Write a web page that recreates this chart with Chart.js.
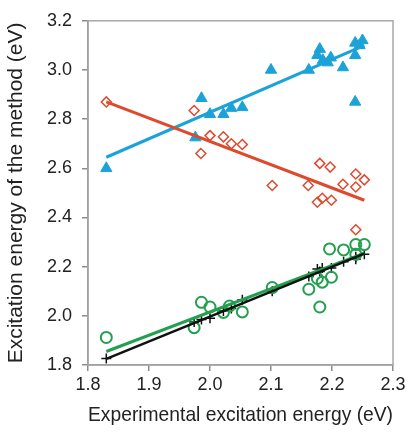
<!DOCTYPE html>
<html>
<head>
<meta charset="utf-8">
<script src="https://cdn.jsdelivr.net/npm/chart.js@4"></script>
<style>
  html, body { margin: 0; padding: 0; background: #fff; overflow: hidden; }
  #wrap { width: 411px; height: 435px; }
</style>
</head>
<body>
<div id="wrap"><canvas id="scatterChart"></canvas></div>
<script>
// experimental vs. computed excitation energies (eV)
const blueX = [1.83, 1.976, 1.986, 2.00, 2.022, 2.035, 2.053, 2.10, 2.162, 2.176, 2.18, 2.185, 2.193, 2.198, 2.218, 2.238, 2.25, 2.238, 2.238, 2.245];
const blueY = [2.60, 2.725, 2.885, 2.82, 2.82, 2.845, 2.848, 3.00, 3.00, 3.06, 3.085, 3.04, 3.03, 3.05, 3.01, 3.11, 3.12, 3.06, 2.87, 3.10];

const redX = [1.83, 1.974, 1.985, 2.00, 2.022, 2.035, 2.053, 2.102, 2.161, 2.18, 2.197, 2.176, 2.184, 2.199, 2.218, 2.239, 2.239, 2.253, 2.239];
const redY = [2.87, 2.835, 2.66, 2.733, 2.728, 2.70, 2.697, 2.53, 2.53, 2.62, 2.605, 2.462, 2.478, 2.47, 2.535, 2.577, 2.524, 2.553, 2.35];

const greenX = [1.83, 1.974, 1.986, 2.00, 2.022, 2.032, 2.053, 2.102, 2.162, 2.176, 2.184, 2.18, 2.199, 2.196, 2.219, 2.239, 2.253, 2.239];
const greenY = [1.912, 1.952, 2.055, 2.036, 2.014, 2.04, 2.016, 2.115, 2.108, 2.152, 2.137, 2.036, 2.157, 2.272, 2.268, 2.29, 2.29, 2.25];

const blackX = [1.83, 1.974, 1.986, 2.00, 2.022, 2.035, 2.053, 2.102, 2.162, 2.176, 2.184, 2.18, 2.199, 2.219, 2.239, 2.253, 2.239];
const blackY = [1.826, 1.975, 1.985, 1.99, 2.02, 2.03, 2.065, 2.10, 2.16, 2.19, 2.195, 2.18, 2.195, 2.22, 2.24, 2.25, 2.23];

// trend line end points
const fitX = [1.83, 2.253];
const blueFit = [2.645, 3.10];
const redFit = [2.87, 2.47];
const greenFit = [1.855, 2.255];
const blackFit = [1.825, 2.253];

const xTicks = [1.8, 1.9, 2.0, 2.1, 2.2, 2.3];
const yTicks = [1.8, 2.0, 2.2, 2.4, 2.6, 2.8, 3.0, 3.2];

const xTitle = 'Experimental excitation energy (eV)';
const yTitle = 'Excitation energy of the method (eV)';

const BLUE = '#1ba3d9';
const RED = '#de4a2e';
const GREEN = '#22a04f';
const BLACK = '#111111';

function pts(xs, ys) {
    return xs.map((x, i) => ({ x: x, y: ys[i] }));
}

function fitLine(ys, color, width) {
    return {
        type: 'line',
        data: pts(fitX, ys),
        borderColor: color,
        borderWidth: width,
        pointRadius: 0,
        fill: false
    };
}

// grey frame round the plot area
const frame = {
    id: 'frame',
    afterDraw(chart) {
        const a = chart.chartArea;
        const ctx = chart.ctx;
        ctx.save();
        ctx.strokeStyle = '#a8a8a8';
        ctx.lineWidth = 1.5;
        ctx.strokeRect(a.left, a.top, a.right - a.left, a.bottom - a.top);
        ctx.restore();
    }
};

const font = 'Liberation Sans, Arial, sans-serif';

const ctx = document.getElementById('scatterChart').getContext('2d');
new Chart(ctx, {
    type: 'scatter',
    data: {
        datasets: [
            fitLine(blackFit, BLACK, 2.5),
            fitLine(greenFit, GREEN, 3),
            fitLine(redFit, RED, 3),
            fitLine(blueFit, BLUE, 3),
            {
                data: pts(blueX, blueY),
                pointStyle: 'triangle',
                pointRadius: 6.5,
                backgroundColor: BLUE,
                borderColor: BLUE,
                borderWidth: 1
            },
            {
                data: pts(redX, redY),
                pointStyle: 'rectRot',
                pointRadius: 5,
                backgroundColor: 'rgba(255,255,255,0)',
                borderColor: RED,
                borderWidth: 1.5
            },
            {
                data: pts(greenX, greenY),
                pointStyle: 'circle',
                pointRadius: 5.5,
                backgroundColor: 'rgba(255,255,255,0)',
                borderColor: GREEN,
                borderWidth: 2
            },
            {
                data: pts(blackX, blackY),
                pointStyle: 'cross',
                pointRadius: 5,
                borderColor: BLACK,
                borderWidth: 1.5
            }
        ]
    },
    options: {
        responsive: true,
        maintainAspectRatio: false,
        animation: false,
        layout: { padding: { top: 20, right: 18, left: 0, bottom: 0 } },
        plugins: {
            legend: { display: false },
            tooltip: { enabled: false }
        },
        scales: {
            x: {
                type: 'linear',
                min: 1.8,
                max: 2.3,
                afterFit: (scale) => { scale.height = 70; },
                afterBuildTicks: (scale) => { scale.ticks = xTicks.map(v => ({ value: v })); },
                ticks: {
                    callback: (v) => v.toFixed(1),
                    color: '#222',
                    padding: 3,
                    font: { family: font, size: 18 }
                },
                grid: { drawOnChartArea: false, tickLength: 6, color: '#8c8c8c', lineWidth: 1.5 },
                border: { color: '#8c8c8c', width: 1.5 },
                title: {
                    display: true,
                    text: xTitle,
                    color: '#222',
                    padding: { top: 4, bottom: 7 },
                    font: { family: font, size: 21 }
                }
            },
            y: {
                type: 'linear',
                min: 1.8,
                max: 3.2,
                afterFit: (scale) => { scale.width = 88; },
                afterBuildTicks: (scale) => { scale.ticks = yTicks.map(v => ({ value: v })); },
                ticks: {
                    callback: (v) => v.toFixed(1),
                    color: '#222',
                    padding: 10,
                    font: { family: font, size: 18 }
                },
                grid: { drawOnChartArea: false, tickLength: 6, color: '#8c8c8c', lineWidth: 1.5 },
                border: { color: '#8c8c8c', width: 1.5 },
                title: {
                    display: true,
                    text: yTitle,
                    color: '#222',
                    padding: { top: 4, bottom: 0 },
                    font: { family: font, size: 21 }
                }
            }
        }
    },
    plugins: [frame]
});
</script>
</body>
</html>
